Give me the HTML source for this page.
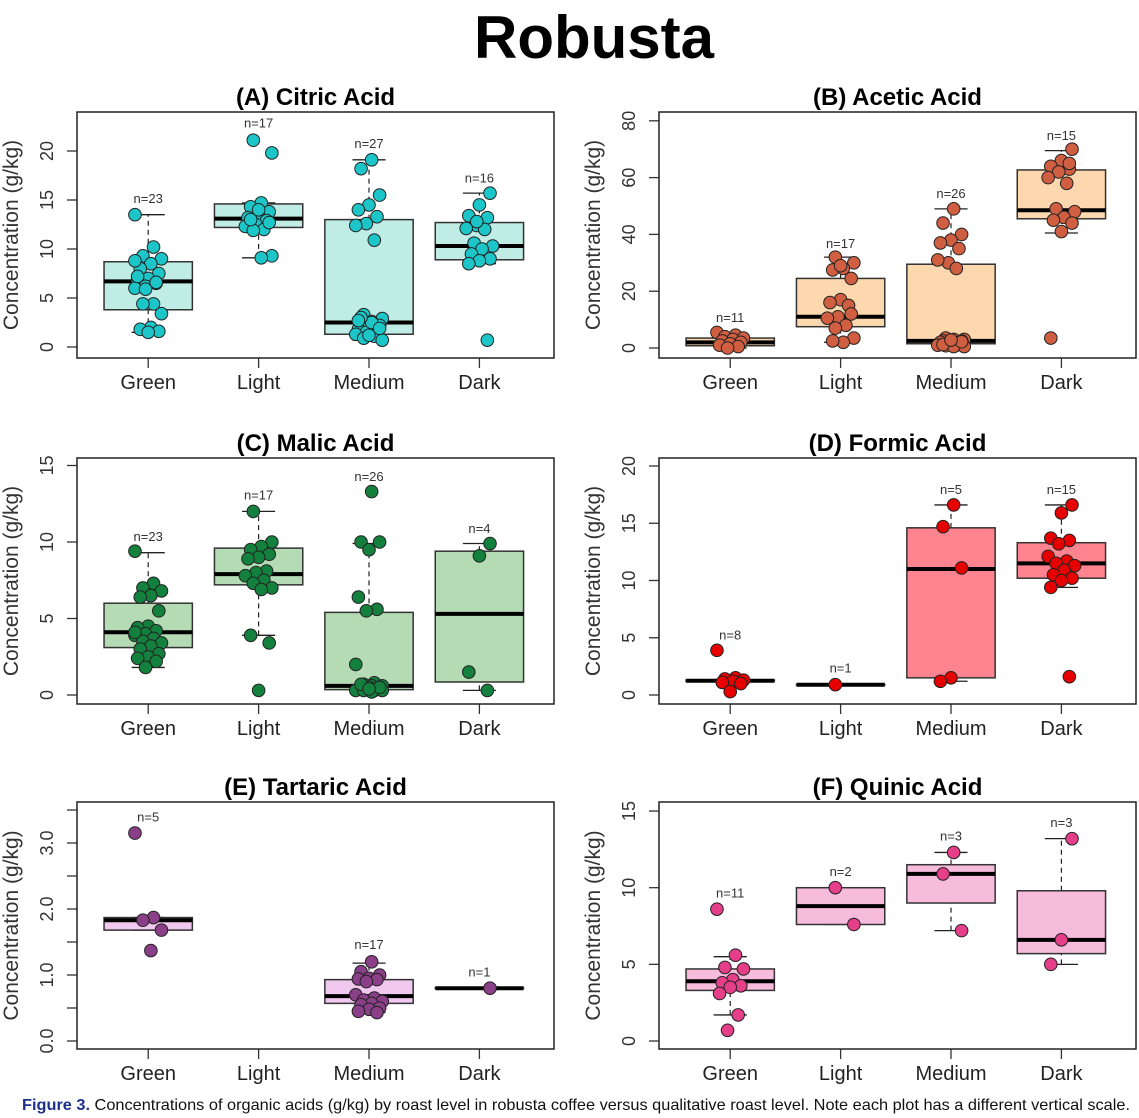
<!DOCTYPE html>
<html><head><meta charset="utf-8"><style>
html,body{margin:0;padding:0;background:#fff;}
svg{display:block;font-family:"Liberation Sans",Arial,sans-serif;}
</style></head><body>
<svg id="chart" width="1139" height="1118" viewBox="0 0 1139 1118" xmlns="http://www.w3.org/2000/svg">
<text x="594" y="58" text-anchor="middle" font-size="60" font-weight="bold" fill="#000">Robusta</text>
<text x="22" y="1110" font-size="16" textLength="1108" lengthAdjust="spacingAndGlyphs" fill="#111"><tspan fill="#1c2f8a" font-weight="bold">Figure 3.</tspan>  Concentrations of organic acids (g/kg) by roast level in robusta coffee versus qualitative roast level. Note each plot has a different vertical scale.</text>
</svg>
<script>
const categories = ["Green","Light","Medium","Dark"];
const panelTitles = ["(A) Citric Acid","(B) Acetic Acid","(C) Malic Acid","(D) Formic Acid","(E) Tartaric Acid","(F) Quinic Acid"];
// points per group
const pointsA = [[13.5,10.2,9.3,9.0,8.5,8.0,7.5,7.0,6.8,6.5,6.2,6.0,4.4,4.4,3.4,2.0,1.8,1.6,1.5,7.2,6.6,5.9,8.8],[21.1,19.8,14.7,14.3,13.8,13.4,13.2,12.9,12.5,12.3,12.0,11.9,9.3,9.1,13.0,12.7,14.0],[19.1,18.2,15.5,14.5,14.0,13.3,12.6,12.4,10.9,3.3,2.9,2.6,2.4,2.2,2.0,1.8,1.6,1.5,1.3,1.1,0.9,0.7,2.5,3.0,1.9,1.2,2.7],[15.7,14.5,13.4,13.2,12.4,12.1,12.0,10.6,10.3,10.0,9.5,9.0,8.8,8.5,0.7,12.8]];
const pointsB = [[5.5,4.5,4,3.5,3,2.5,2,1.5,1,0.5,0],[32,30,28,27.5,24.5,17,16,15,11,10.5,8,7,3.5,2,2.5,12,29],[49,44,40,38,37,35,30,31,28,3.5,3,3,2.5,2.5,2,2,1.5,1.5,1,1,0.8,0.5,0.5,1.2,2.2,2.8],[70,66,64,63,62,60,58,49,48,46,45,44,41,3.5,65]];
const pointsC = [[9.4,7.3,7.0,6.8,6.5,6.4,5.5,4.5,4.4,4.2,4.0,3.9,3.7,3.5,3.4,3.2,3.0,2.7,2.5,2.4,2.2,1.8,4.1],[12.0,10.0,9.7,9.5,9.2,9.0,8.9,8.1,8.0,7.8,7.5,7.3,7.0,6.9,3.9,3.4,0.3],[13.3,10.0,10.0,9.5,6.4,5.6,5.5,2.0,0.8,0.7,0.6,0.6,0.5,0.5,0.5,0.4,0.4,0.4,0.3,0.3,0.3,0.3,0.2,0.7,0.5,0.4],[9.9,9.1,1.5,0.3]];
const pointsD = [[3.9,1.5,1.4,1.3,1.2,1.1,1.0,0.3],[0.9],[16.6,14.7,11.1,1.5,1.2],[16.6,15.9,13.7,13.5,13.2,12.1,11.7,11.5,11.3,10.9,10.5,10.2,10.0,9.4,1.6]];
const pointsE = [[3.15,1.87,1.83,1.68,1.37],[],[1.2,1.05,1.0,0.95,0.94,0.93,0.9,0.7,0.65,0.62,0.6,0.57,0.55,0.5,0.48,0.45,0.43],[0.8]];
const pointsF = [[8.6,5.6,4.8,4.7,4.0,3.8,3.6,3.5,3.1,1.7,0.7],[10.0,7.6],[12.3,10.9,7.2],[13.2,6.6,5.0]];
// box stats: [whiskerLow, q1, median, q3, whiskerHigh] (null = no group)
const boxesA = [[1.5,3.8,6.7,8.7,13.5],[9.1,12.2,13.1,14.6,14.7],[0.7,1.3,2.5,13.0,19.1],[8.5,8.9,10.3,12.7,15.7]];
const boxesB = [[0,0.8,2.0,3.5,5.2],[2,7.5,11,24.5,32],[0.5,1.5,2.5,29.5,49],[40.5,45.5,48.5,62.7,69.5]];
const boxesC = [[1.8,3.1,4.1,6.0,9.3],[3.9,7.2,7.9,9.6,12.0],[0.25,0.35,0.6,5.4,9.9],[0.3,0.85,5.3,9.4,9.9]];
const boxesD = [[1.2,1.2,1.25,1.3,1.3],[0.9,0.9,0.9,0.9,0.9],[1.2,1.5,11.0,14.6,16.6],[9.4,10.2,11.5,13.3,16.6]];
const boxesE = [[1.68,1.68,1.83,1.87,1.87],null,[0.43,0.57,0.68,0.93,1.18],[0.8,0.8,0.8,0.8,0.8]];
const boxesF = [[1.7,3.3,3.9,4.7,5.5],[7.6,7.6,8.8,10.0,10.0],[7.2,9.0,10.9,11.5,12.3],[5.0,5.7,6.6,9.8,13.2]];
// n labels and their heights (data units)
const nLabelsA = [23,17,27,16];  const nPosA = [15.2,22.9,20.8,17.3];
const nLabelsB = [11,17,26,15];  const nPosB = [11,37,54.6,75];
const nLabelsC = [23,17,26,4];   const nPosC = [10.4,13.1,14.3,10.9];
const nLabelsD = [8,1,5,15];     const nPosD = [5.3,2.4,18,18];
const nLabelsE = [5,null,17,1];  const nPosE = [3.4,null,1.47,1.05];
const nLabelsF = [11,2,3,3];     const nPosF = [9.7,11.1,13.4,14.3];
// y-axis ticks
const ticksA = [0,5,10,15,20];  const ticksB = [0,20,40,60,80];
const ticksC = [0,5,10,15];     const ticksD = [0,5,10,15,20];
const ticksE = [0,0.5,1,1.5,2,2.5,3,3.5]; const tickLabelsE = ["0.0","","1.0","","2.0","","3.0",""];
const ticksF = [0,5,10,15];

const NS="http://www.w3.org/2000/svg";
const svg=document.getElementById('chart');
function mk(tag,attrs,parent){const e=document.createElementNS(NS,tag);for(const k in attrs)e.setAttribute(k,attrs[k]);(parent||svg).appendChild(e);return e;}

const panels=[
 {left:77,top:112,bottom:358,zero:347,ppu:9.8,pts:pointsA,box:boxesA,nl:nLabelsA,np:nPosA,ticks:ticksA,tl:null,fill:"#c0ece6",pc:"#1cc6c8",name:"citric"},
 {left:659,top:112,bottom:358,zero:348,ppu:2.84,pts:pointsB,box:boxesB,nl:nLabelsB,np:nPosB,ticks:ticksB,tl:null,fill:"#fdd8ae",pc:"#cf5f40",name:"acetic"},
 {left:77,top:458,bottom:704,zero:695,ppu:15.3,pts:pointsC,box:boxesC,nl:nLabelsC,np:nPosC,ticks:ticksC,tl:null,fill:"#b5dbb4",pc:"#14803e",name:"malic"},
 {left:659,top:458,bottom:704,zero:695,ppu:11.45,pts:pointsD,box:boxesD,nl:nLabelsD,np:nPosD,ticks:ticksD,tl:null,fill:"#ff8490",pc:"#e60000",name:"formic"},
 {left:77,top:802,bottom:1049,zero:1041,ppu:66,pts:pointsE,box:boxesE,nl:nLabelsE,np:nPosE,ticks:ticksE,tl:tickLabelsE,fill:"#f0c8f0",pc:"#8b3f88",name:"tartaric"},
 {left:659,top:802,bottom:1049,zero:1041,ppu:15.33,pts:pointsF,box:boxesF,nl:nLabelsF,np:nPosF,ticks:ticksF,tl:null,fill:"#f7bcdc",pc:"#e63f8a",name:"quinic"}
];
const W=477, unit=110.4;

panels.forEach((p,pi)=>{
 const g=mk('g',{});
 
 
 const x=i=>p.left+(i+0.645)*unit;
 const y=v=>p.zero-v*p.ppu;
 const cx=p.left+W/2;
 const t=mk('text',{x:cx,y:p.top-7,'text-anchor':'middle','font-size':24,'font-weight':'bold',fill:'#000'},g);
 t.textContent=panelTitles[pi];
 
 
 const at=mk('text',{transform:`translate(${p.left-59},${(p.top+p.bottom)/2}) rotate(-90)`,'text-anchor':'middle','font-size':21,fill:'#333'},g);
 at.textContent="Concentration (g/kg)";
 
 
 p.ticks.forEach((tv,ti)=>{
  const ty=y(tv);
  const tk=mk('line',{x1:p.left-10,x2:p.left,y1:ty,y2:ty,stroke:'#333','stroke-width':1.3},g);
  
  
  const lab=p.tl?p.tl[ti]:String(tv);
  if(lab){
   const tl=mk('text',{transform:`translate(${p.left-24},${ty}) rotate(-90)`,'text-anchor':'middle','font-size':18,fill:'#333'},g);
   tl.textContent=lab;
   
   
  }
 });
 categories.forEach((c,i)=>{
  const tk=mk('line',{x1:x(i),x2:x(i),y1:p.bottom,y2:p.bottom+10,stroke:'#333','stroke-width':1.3},g);
  
  
  const xl=mk('text',{x:x(i),y:p.bottom+31,'text-anchor':'middle','font-size':20,fill:'#222'},g);
  xl.textContent=c;
  
  
 });
 p.box.forEach((b,i)=>{
  if(!b)return;
  const bx=x(i), hw=0.4*unit, cw=0.15*unit;
  const bg=mk('g',{},g);
  
  
  mk('line',{x1:bx,x2:bx,y1:y(b[0]),y2:y(b[1]),stroke:'#222','stroke-width':1.2,'stroke-dasharray':'5,4'},bg);
  mk('line',{x1:bx,x2:bx,y1:y(b[3]),y2:y(b[4]),stroke:'#222','stroke-width':1.2,'stroke-dasharray':'5,4'},bg);
  mk('line',{x1:bx-cw,x2:bx+cw,y1:y(b[0]),y2:y(b[0]),stroke:'#222','stroke-width':1.3},bg);
  mk('line',{x1:bx-cw,x2:bx+cw,y1:y(b[4]),y2:y(b[4]),stroke:'#222','stroke-width':1.3},bg);
  mk('rect',{x:bx-hw,y:y(b[3]),width:2*hw,height:Math.max(0.1,y(b[1])-y(b[3])),fill:p.fill,stroke:'#333','stroke-width':1.5},bg);
  mk('line',{x1:bx-hw,x2:bx+hw,y1:y(b[2]),y2:y(b[2]),stroke:'#000','stroke-width':4},bg);
 });
 p.pts.forEach((arr,i)=>{
  arr.forEach((v,k)=>{
   const off=(((k*7+i*3)%11)-5)/5*0.12*unit;
   const c=mk('circle',{cx:x(i)+off,cy:y(v),r:6.3,fill:p.pc,stroke:'#222','stroke-width':1},g);
   
   
  });
 });
 p.nl.forEach((n,i)=>{
  if(n===null)return;
  const nt=mk('text',{x:x(i),y:y(p.np[i])+5,'text-anchor':'middle','font-size':13,fill:'#333'},g);
  nt.textContent="n="+n;
  
  
 });
 const fr=mk('rect',{x:p.left,y:p.top,width:W,height:p.bottom-p.top,fill:'none',stroke:'#222','stroke-width':1.5},g);
 
 
});
</script>
</body></html>
